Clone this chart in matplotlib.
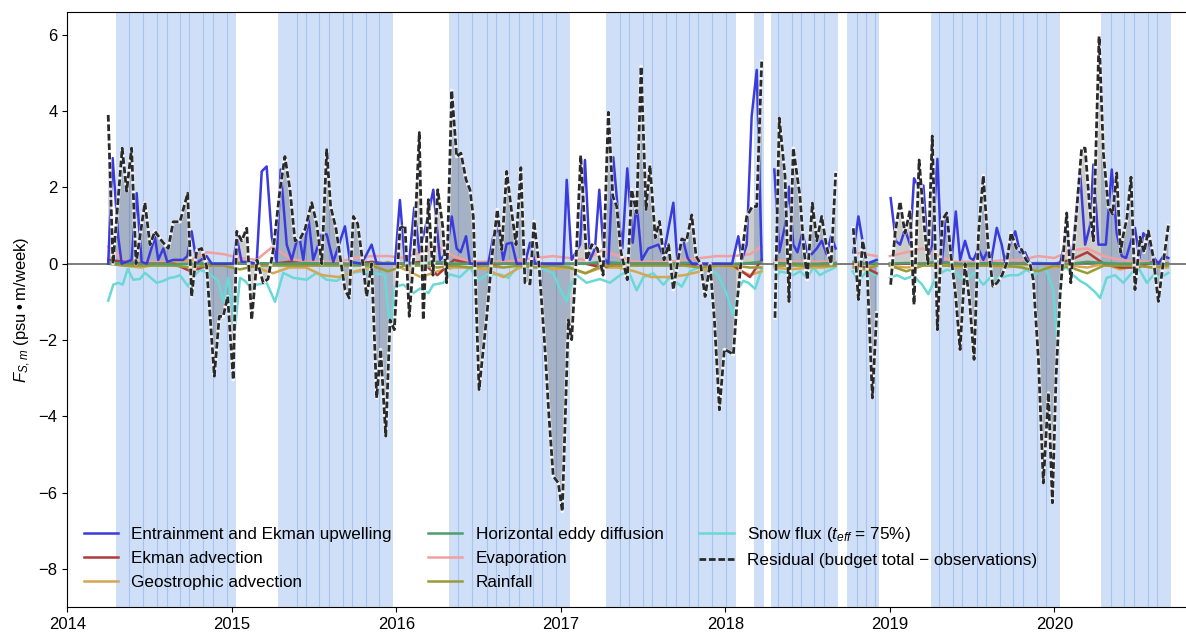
import numpy as np
import matplotlib
matplotlib.use("Agg")
import matplotlib.pyplot as plt

nan = np.nan

# ice-covered periods (decimal years) and the sub-period boundaries inside them
ice_start = [2014.296, 2015.283, 2016.320, 2017.275, 2018.174, 2018.278, 2018.740, 2019.249, 2020.284]
ice_end = [2015.024, 2015.978, 2017.056, 2018.063, 2018.233, 2018.683, 2018.933, 2020.033, 2020.708]
ice_lines = [2014.377, 2014.462, 2014.547, 2014.604, 2014.687, 2014.742, 2014.827, 2014.884, 2014.969,
             2015.395, 2015.449, 2015.532, 2015.589, 2015.674, 2015.729, 2015.814, 2015.897,
             2016.377, 2016.462, 2016.550, 2016.604, 2016.687, 2016.744, 2016.829, 2016.884, 2016.969,
             2017.360, 2017.416, 2017.502, 2017.556, 2017.641, 2017.698, 2017.781, 2017.836, 2017.921, 2018.004,
             2018.319, 2018.404, 2018.459, 2018.541, 2018.600,
             2018.799, 2018.853, 2018.910,
             2019.301, 2019.386, 2019.441, 2019.528, 2019.583, 2019.670, 2019.751, 2019.808, 2019.893, 2019.950,
             2020.345, 2020.426, 2020.485, 2020.568, 2020.623]

# residual (budget total - observations)
resid_t = [2014.249, 2014.278, 2014.334, 2014.361, 2014.391, 2014.418, 2014.472, 2014.503, 2014.533, 2014.574,
           2014.614, 2014.644, 2014.685, 2014.732, 2014.756, 2014.787, 2014.817, 2014.847, 2014.894, 2014.924,
           2014.948, 2014.975,
           2015.009, 2015.030, 2015.060, 2015.091, 2015.121, 2015.153, 2015.191, 2015.220, 2015.252, 2015.293,
           2015.323, 2015.354, 2015.384, 2015.415, 2015.445, 2015.486, 2015.516, 2015.547, 2015.577, 2015.601,
           2015.633, 2015.688, 2015.714, 2015.739, 2015.765, 2015.791, 2015.820, 2015.850, 2015.881, 2015.905,
           2015.936, 2015.962, 2015.988,
           2016.022, 2016.053, 2016.079, 2016.108, 2016.140, 2016.164, 2016.195, 2016.223, 2016.252, 2016.282,
           2016.306, 2016.337, 2016.367, 2016.393, 2016.424, 2016.448, 2016.468, 2016.503, 2016.550, 2016.582,
           2016.614, 2016.641, 2016.671, 2016.702, 2016.728, 2016.757, 2016.782, 2016.813, 2016.837, 2016.867,
           2016.904, 2016.928, 2016.954, 2016.985,
           2017.009, 2017.046, 2017.066, 2017.092, 2017.121, 2017.157, 2017.188, 2017.222, 2017.257, 2017.289,
           2017.316, 2017.340, 2017.366, 2017.404, 2017.431, 2017.461, 2017.488, 2017.518, 2017.542, 2017.574,
           2017.600, 2017.627, 2017.655, 2017.684, 2017.709, 2017.735, 2017.764, 2017.796, 2017.822, 2017.849,
           2017.877, 2017.907, 2017.934, 2017.964, 2017.994,
           2018.019, 2018.049, 2018.069, 2018.099, 2018.130, 2018.164, 2018.191, 2018.221, 2018.250, 2018.302,
           2018.328, 2018.363, 2018.387, 2018.413, 2018.454, 2018.475, 2018.498, 2018.529, 2018.556, 2018.586,
           2018.616, 2018.643, 2018.671, 2018.720, 2018.778, 2018.809, 2018.835, 2018.860, 2018.894, 2018.920,
           2018.960,
           2019.005, 2019.032, 2019.062, 2019.092, 2019.123, 2019.147, 2019.178, 2019.208, 2019.232, 2019.258,
           2019.289, 2019.319, 2019.346, 2019.372, 2019.399, 2019.427, 2019.457, 2019.485, 2019.512, 2019.539,
           2019.568, 2019.597, 2019.626, 2019.652, 2019.682, 2019.709, 2019.737, 2019.770, 2019.802, 2019.828,
           2019.852, 2019.872, 2019.903, 2019.933, 2019.964, 2019.988,
           2020.010, 2020.035, 2020.075, 2020.100, 2020.132, 2020.166, 2020.187, 2020.214, 2020.237, 2020.272,
           2020.298, 2020.328, 2020.354, 2020.379, 2020.402, 2020.419, 2020.441, 2020.466, 2020.490, 2020.521,
           2020.545, 2020.571, 2020.600, 2020.632, 2020.661, 2020.693]
resid_v = [3.9, 0.0, 3.03, 1.9, 3.03, 0.0, 1.6, 0.5, 0.85, 0.6,
           0.4, 1.1, 1.1, 1.85, -0.86, 0.35, 0.4, -0.07, -2.95, -1.38,
           -1.38, -0.86,
           -3.04, 0.85, 0.6, 0.93, -1.47, 0.1, -0.5, -0.4, 0.35, 1.94,
           2.81, 1.94, 0.6, 0.65, 0.9, 1.6, 1.05, 0.0, 2.99, 1.5,
           0.93, -0.68, -0.9, 1.24, 1.05, 0.2, -0.86, 0.0, -3.52, -2.25,
           -4.52, -1.47, -1.73,
           0.93, 1.0, -1.38, 0.3, 3.44, -1.47, 1.68, -0.3, 1.94, 0.98,
           -0.5, 4.54, 2.81, 2.9, 2.2, 1.94, 1.24, -3.3, -1.38, 0.2,
           1.42, 0.37, 2.42, 1.33, 0.5, 2.52, -0.5, -0.53, 1.11, 0.0,
           -2.25, -4.0, -5.57, -5.75,
           -6.49, -1.47, -1.99, 0.0, 2.84, 0.1, 0.5, 0.4, -0.3, 3.97,
           1.77, 1.5, 0.3, -0.42, 1.94, 1.33, 5.17, 1.42, 2.58, 0.68,
           1.11, 0.1, 0.5, -0.68, 0.0, 0.65, 0.6, 1.28, 0.2, 0.0,
           -0.86, 0.0, -1.5, -3.83, -2.25,
           -2.3, -2.38, -1.12, 0.2, 1.24, 1.5, 1.5, 5.3, nan, -1.42,
           3.82, 2.29, -0.99, 3.03, 1.76, 0.5, -0.42, 1.59, 0.6, 1.24,
           0.43, 0.0, 2.38, nan, 0.93, -0.94, 0.6, 0.0, -3.52, -1.29,
           nan,
           -0.55, 0.8, 1.63, 0.8, 1.4, -1.07, 2.72, 1.05, 0.0, 3.35,
           -1.73, 1.15, 1.33, 0.2, -0.8, -2.25, 0.0, -1.0, -2.51, 0.8,
           2.31, 0.5, -0.59, -0.5, -0.3, 0.0, 0.81, 0.4, 0.37, 0.1,
           0.0, -0.42, -2.5, -5.75, -3.39, -6.27,
           -3.0, -0.8, 1.33, -0.5, 1.2, 3.03, 3.03, 1.5, 0.6, 5.96,
           2.9, 1.5, 1.3, 2.38, 0.3, 0.75, 1.2, 2.27, -0.68, 0.7,
           0.3, 0.86, 0.2, -0.99, 0.0, 1.0]

# entrainment and Ekman upwelling
entr_t = [2014.249, 2014.276, 2014.310, 2014.331, 2014.361, 2014.391, 2014.422, 2014.452, 2014.483, 2014.533,
          2014.553, 2014.584, 2014.608, 2014.644, 2014.705, 2014.730, 2014.756, 2014.787, 2014.847, 2014.878,
          2015.009, 2015.030, 2015.060, 2015.100, 2015.151, 2015.182, 2015.212, 2015.243, 2015.273, 2015.297,
          2015.334, 2015.364, 2015.395, 2015.415, 2015.435, 2015.465, 2015.495, 2015.547, 2015.577, 2015.617,
          2015.688, 2015.719, 2015.790, 2015.850, 2015.881, 2015.992,
          2016.022, 2016.053, 2016.077, 2016.109, 2016.140, 2016.185, 2016.225, 2016.266, 2016.306, 2016.337,
          2016.367, 2016.391, 2016.424, 2016.448, 2016.559, 2016.590, 2016.620, 2016.650, 2016.671, 2016.702,
          2016.732, 2016.782, 2016.813, 2016.843,
          2017.015, 2017.036, 2017.066, 2017.117, 2017.147, 2017.177, 2017.208, 2017.234, 2017.263, 2017.289,
          2017.319, 2017.350, 2017.374, 2017.404, 2017.437, 2017.461, 2017.492, 2017.532, 2017.562, 2017.593,
          2017.623, 2017.684, 2017.708, 2017.741, 2017.771, 2017.796,
          2018.041, 2018.079, 2018.100, 2018.130, 2018.160, 2018.191, 2018.221, 2018.250, 2018.298, 2018.328,
          2018.363, 2018.387, 2018.413, 2018.438, 2018.468, 2018.498, 2018.525, 2018.556, 2018.586, 2018.616,
          2018.643, 2018.671, 2018.720, 2018.778, 2018.809, 2018.835, 2018.860, 2018.920, 2018.960,
          2019.005, 2019.036, 2019.062, 2019.092, 2019.123, 2019.147, 2019.178, 2019.204, 2019.234, 2019.258,
          2019.289, 2019.315, 2019.346, 2019.376, 2019.401, 2019.427, 2019.457, 2019.487, 2019.508, 2019.538,
          2019.568, 2019.589, 2019.615, 2019.650, 2019.680, 2019.700, 2019.731, 2019.762, 2019.791, 2019.822,
          2019.852,
          2020.035, 2020.075, 2020.106, 2020.156, 2020.187, 2020.217, 2020.237, 2020.268, 2020.313, 2020.349,
          2020.379, 2020.410, 2020.436, 2020.490, 2020.517, 2020.541, 2020.568, 2020.598, 2020.632, 2020.663,
          2020.693]
entr_v = [0.0, 2.77, 0.7, 0.0, 0.05, 0.1, 1.85, 0.05, 0.0, 0.7,
          0.1, 0.4, 0.05, 0.1, 0.1, 0.2, 0.85, 0.02, 0.2, 0.0,
          0.0, 0.7, 0.05, 0.05, 0.0, 2.42, 2.55, 0.7, 0.05, 2.47,
          0.5, 0.1, 0.6, 0.6, 0.1, 1.24, 0.1, 0.77, 0.77, 0.05,
          0.98, 0.05, 0.0, 0.5, 0.0, 0.0,
          1.67, 0.05, 0.0, 1.47, 0.3, 1.1, 1.94, 0.1, 0.3, 1.24,
          0.4, 0.3, 0.72, 0.0, 0.0, 0.72, 0.94, 0.1, 0.52, 0.55,
          0.0, 0.0, 0.55, 0.0,
          0.0, 2.2, 0.1, 0.5, 2.72, 0.1, 0.4, 1.94, 0.15, 0.0,
          2.79, 1.24, 0.4, 2.5, 0.55, 1.6, 0.1, 0.4, 0.45, 0.5,
          0.2, 1.6, 0.1, 0.65, 0.15, 0.0,
          0.0, 0.72, 0.1, 0.5, 3.86, 5.08, 0.1, nan, 2.47, 0.3,
          1.0, 2.02, 0.5, 0.3, 0.8, 0.3, 0.25, 0.4, 0.6, 0.25,
          0.72, 0.4, nan, 0.3, 1.24, 0.57, 0.0, 0.1, nan,
          1.72, 0.6, 0.5, 0.9, 0.5, 2.24, 2.0, 2.05, 0.2, 0.5,
          2.75, 0.0, 1.33, 0.1, 1.37, 0.1, 0.6, 0.15, 0.1, 0.4,
          0.1, 0.3, 0.05, 0.94, 0.5, 0.05, 0.5, 0.85, 0.3, 0.3,
          0.0,
          0.0, 0.8, 0.1, 2.42, 0.5, 1.0, 2.6, 0.5, 0.5, 2.47,
          0.8, 0.2, 0.15, 0.94, 0.15, 0.8, 0.65, 0.2, 0.0, 0.2,
          0.15]

# snow flux
snow_t = [2014.249, 2014.280, 2014.310, 2014.337, 2014.367, 2014.401, 2014.442, 2014.472, 2014.503, 2014.543,
          2014.584, 2014.624, 2014.655, 2014.685, 2014.736, 2014.764, 2014.807, 2014.857, 2014.918, 2014.948,
          2014.979,
          2015.019, 2015.050, 2015.080, 2015.121, 2015.151, 2015.212, 2015.263, 2015.313, 2015.374, 2015.455,
          2015.516, 2015.577, 2015.638, 2015.719, 2015.790, 2015.860, 2015.931, 2015.962, 2015.992,
          2016.043, 2016.104, 2016.144, 2016.195, 2016.225, 2016.286, 2016.326, 2016.387, 2016.448, 2016.498,
          2016.550, 2016.630, 2016.681, 2016.732, 2016.813, 2016.874, 2016.954, 2016.995,
          2017.036, 2017.066, 2017.097, 2017.157, 2017.238, 2017.299, 2017.360, 2017.410, 2017.461, 2017.502,
          2017.562, 2017.623, 2017.664, 2017.735, 2017.785, 2017.836, 2017.907, 2017.957,
          2018.009, 2018.049, 2018.079, 2018.109, 2018.140, 2018.181, 2018.221, 2018.250, 2018.302, 2018.332,
          2018.373, 2018.413, 2018.454, 2018.498, 2018.535, 2018.575, 2018.616, 2018.667, 2018.720, 2018.774,
          2018.809, 2018.860, 2018.920, 2018.960,
          2019.001, 2019.042, 2019.092, 2019.143, 2019.195, 2019.234, 2019.285, 2019.346, 2019.396, 2019.427,
          2019.467, 2019.508, 2019.568, 2019.609, 2019.670, 2019.731, 2019.781, 2019.832, 2019.883, 2019.923,
          2019.954, 2019.994,
          2020.014, 2020.045, 2020.075, 2020.115, 2020.156, 2020.197, 2020.249, 2020.278, 2020.318, 2020.369,
          2020.419, 2020.471, 2020.511, 2020.562, 2020.602, 2020.642, 2020.693]
snow_v = [-0.97, -0.55, -0.5, -0.55, -0.14, -0.42, -0.4, -0.24, -0.35, -0.5,
          -0.45, -0.37, -0.35, -0.3, -0.6, -0.35, -0.16, -0.24, -0.45, -0.99,
          -0.37,
          -1.73, -0.37, -0.45, -0.65, -0.55, -0.5, -1.0, -0.24, -0.37, -0.42,
          -0.24, -0.42, -0.45, -0.24, -0.2, -0.24, -0.3, -1.73, -0.6,
          -0.55, -0.77, -0.65, -0.77, -0.55, -0.5, -0.28, -0.35, -0.1, -0.45,
          -0.28, -0.28, -0.37, -0.1, -0.1, -0.1, -0.25, -0.66,
          -1.0, -0.5, -0.3, -0.5, -0.4, -0.5, -0.3, -0.18, -0.7, -0.35,
          -0.25, -0.55, -0.35, -0.6, -0.2, -0.1, -0.15, -0.3,
          -0.8, -1.36, -0.66, -0.45, -0.5, -0.66, -0.14, nan, -0.45, -0.2,
          -0.24, -0.3, -0.2, -0.37, -0.1, -0.3, -0.2, -0.1, nan, -0.2,
          -0.45, -0.2, -0.3, nan,
          -0.37, -0.3, -0.4, -0.32, -0.54, -0.8, -0.3, -0.16, -0.2, -0.37,
          -0.45, -0.24, -0.55, -0.37, -0.37, -0.3, -0.3, -0.16, -0.3, -0.1,
          -0.2, -0.7,
          -1.99, -0.14, -0.1, -0.3, -0.45, -0.55, -0.75, -0.9, -0.37, -0.3,
          -0.5, -0.24, -0.1, -0.5, -0.3, -0.37, -0.24]

# the smaller terms, read at a coarser step
small_t = [2014.25, 2014.35, 2014.45, 2014.55, 2014.65, 2014.75, 2014.85, 2014.95,
           2015.05, 2015.15, 2015.25, 2015.35, 2015.45, 2015.55, 2015.65, 2015.75, 2015.85, 2015.95,
           2016.05, 2016.15, 2016.25, 2016.35, 2016.45, 2016.55, 2016.65, 2016.75, 2016.85, 2016.95,
           2017.05, 2017.15, 2017.25, 2017.35, 2017.45, 2017.55, 2017.65, 2017.75, 2017.85, 2017.95,
           2018.05, 2018.15, 2018.22, 2018.25, 2018.30, 2018.40, 2018.50, 2018.60, 2018.67, 2018.72,
           2018.78, 2018.85, 2018.92, 2018.96,
           2019.00, 2019.10, 2019.20, 2019.30, 2019.40, 2019.50, 2019.60, 2019.70, 2019.80, 2019.90,
           2020.00, 2020.10, 2020.20, 2020.30, 2020.40, 2020.50, 2020.60, 2020.69]
ekman_v = [0.1, 0.05, 0.0, 0.0, 0.0, -0.2, -0.05, 0.0,
           0.0, 0.0, 0.0, 0.05, 0.0, 0.0, 0.0, 0.0, 0.05, 0.0,
           0.0, 0.05, -0.3, 0.1, 0.0, -0.05, 0.0, 0.0, 0.0, 0.0,
           0.0, 0.0, -0.1, 0.0, 0.0, 0.0, 0.0, 0.0, -0.1, 0.0,
           -0.05, -0.35, 0.1, nan, 0.0, 0.0, -0.05, 0.0, 0.0, nan,
           0.0, -0.1, -0.25, nan,
           0.0, 0.0, 0.0, 0.05, 0.0, -0.05, 0.0, 0.0, 0.0, 0.0,
           0.0, 0.1, 0.3, 0.0, -0.1, -0.1, 0.05, 0.0]
geo_v = [0.0, -0.05, -0.1, 0.0, 0.05, 0.1, 0.0, -0.05,
         0.05, -0.1, -0.25, -0.1, -0.1, -0.3, -0.35, -0.2, -0.1, 0.05,
         -0.15, -0.35, -0.2, -0.1, -0.1, -0.15, -0.35, -0.1, 0.0, -0.15,
         -0.1, -0.25, -0.1, -0.1, -0.2, -0.35, -0.35, -0.3, -0.2, -0.05,
         -0.1, -0.3, -0.2, nan, -0.1, -0.15, -0.1, -0.1, -0.05, nan,
         -0.05, -0.1, -0.05, nan,
         -0.05, -0.1, -0.05, 0.0, -0.1, -0.05, -0.05, -0.1, -0.05, 0.0,
         -0.1, -0.05, -0.1, 0.0, -0.15, -0.05, -0.1, -0.1]
eddy_v = [0.0, 0.02, 0.0, 0.0, -0.02, 0.0, 0.02, 0.0,
          0.0, 0.02, 0.0, 0.0, 0.02, 0.0, 0.0, -0.02, 0.0, 0.02,
          0.0, 0.0, 0.05, 0.0, 0.0, 0.02, 0.0, 0.0, 0.0, -0.02,
          0.0, 0.0, 0.05, 0.02, 0.0, 0.0, 0.0, 0.02, 0.0, 0.0,
          0.0, 0.02, 0.05, nan, 0.02, 0.0, 0.0, 0.0, 0.02, nan,
          0.05, 0.0, 0.02, nan,
          0.0, 0.02, 0.0, 0.05, 0.0, 0.0, 0.02, 0.0, 0.0, 0.02,
          0.0, 0.0, 0.05, 0.02, 0.0, 0.0, 0.02, 0.0]
evap_v = [0.45, 0.05, 0.05, 0.05, 0.05, 0.1, 0.3, 0.25,
          0.15, 0.1, 0.45, 0.15, 0.05, 0.05, 0.05, 0.15, 0.2, 0.2,
          0.15, 0.3, 0.45, 0.2, 0.05, 0.05, 0.05, 0.1, 0.15, 0.2,
          0.15, 0.1, 0.35, 0.2, 0.05, 0.05, 0.05, 0.1, 0.15, 0.2,
          0.2, 0.25, 0.45, nan, 0.1, 0.05, 0.05, 0.05, 0.05, nan,
          0.3, 0.25, 0.2, nan,
          0.2, 0.3, 0.4, 0.2, 0.05, 0.05, 0.05, 0.1, 0.1, 0.2,
          0.15, 0.35, 0.4, 0.2, 0.1, 0.05, 0.05, 0.05]
rain_v = [0.0, -0.05, -0.05, -0.05, -0.05, -0.1, -0.05, -0.05,
          -0.15, -0.05, -0.05, -0.05, -0.05, -0.05, -0.05, -0.05, -0.05, -0.2,
          -0.05, -0.05, -0.1, -0.05, -0.1, -0.05, -0.1, -0.05, -0.1, -0.05,
          -0.1, -0.25, -0.05, -0.05, -0.05, -0.05, -0.05, -0.05, -0.1, -0.05,
          -0.05, -0.1, -0.1, nan, -0.05, -0.05, -0.05, -0.05, -0.05, nan,
          -0.1, -0.15, -0.05, nan,
          -0.05, -0.2, -0.05, -0.05, -0.05, -0.05, -0.05, -0.05, -0.1, -0.2,
          -0.05, -0.1, -0.25, -0.05, -0.05, -0.05, -0.1, -0.05]

plt.rcParams["font.family"] = ["Liberation Sans", "DejaVu Sans"]
plt.rcParams["font.size"] = 12
plt.rcParams["mathtext.fontset"] = "custom"
plt.rcParams["mathtext.rm"] = "Liberation Sans"
plt.rcParams["mathtext.it"] = "Liberation Sans:italic"

fig = plt.figure(figsize=(11.86, 6.34), dpi=100)
ax = fig.add_axes([0.0567, 0.0426, 0.9430, 0.9385])

for s, e in zip(ice_start, ice_end):
    ax.axvspan(s, e, color="#cfdff7", lw=0, zorder=0)
for x in ice_lines:
    ax.axvline(x, color="#a9c3f0", lw=0.8, zorder=0.5)

ax.axhline(0, color="#666666", lw=1.2, zorder=1)
ax.fill_between(resid_t, resid_v, 0, color="black", alpha=0.2, lw=0, zorder=1.2)

ax.plot(entr_t, entr_v, color="#3b3bdc", lw=1.8, zorder=3, label="Entrainment and Ekman upwelling")
ax.plot(small_t, ekman_v, color="#b03a3a", lw=1.8, zorder=2.5, label="Ekman advection")
ax.plot(small_t, geo_v, color="#d4a84e", lw=1.8, zorder=2.4, label="Geostrophic advection")
ax.plot(small_t, eddy_v, color="#4f9d6e", lw=1.8, zorder=2.6, label="Horizontal eddy diffusion")
ax.plot(small_t, evap_v, color="#f0a0a0", lw=1.8, zorder=2.3, label="Evaporation")
ax.plot(small_t, rain_v, color="#9b9a35", lw=1.8, zorder=2.55, label="Rainfall")
ax.plot(snow_t, snow_v, color="#6ad8d6", lw=1.8, zorder=2.2, label=r"Snow flux ($t_{eff}$ = 75%)")
ax.plot(resid_t, resid_v, color="white", lw=2.6, alpha=0.8, zorder=3.9)
ax.plot(resid_t, resid_v, color="#2a2a2a", lw=2.0, dashes=(2.4, 1.0), zorder=4,
        label="Residual (budget total \u2212 observations)")

ax.set_xlim(2014.0, 2020.798)
ax.set_ylim(-9.0, 6.6)
ax.set_xticks(range(2014, 2021))
ax.set_xticklabels([str(y) for y in range(2014, 2021)])
ax.set_yticks(range(-8, 7, 2))
ax.set_ylabel("$F_{S,m}$ (psu\u2009\u2022\u2009m/week)")
ax.spines["right"].set_visible(False)

ax.legend(loc="lower left", bbox_to_anchor=(0.007, 0.015), ncol=3, frameon=False, fontsize=12.3,
          borderpad=0, handlelength=2.0, handletextpad=0.8, columnspacing=2.1, labelspacing=0.52)

fig.savefig("out.png", dpi=100)
